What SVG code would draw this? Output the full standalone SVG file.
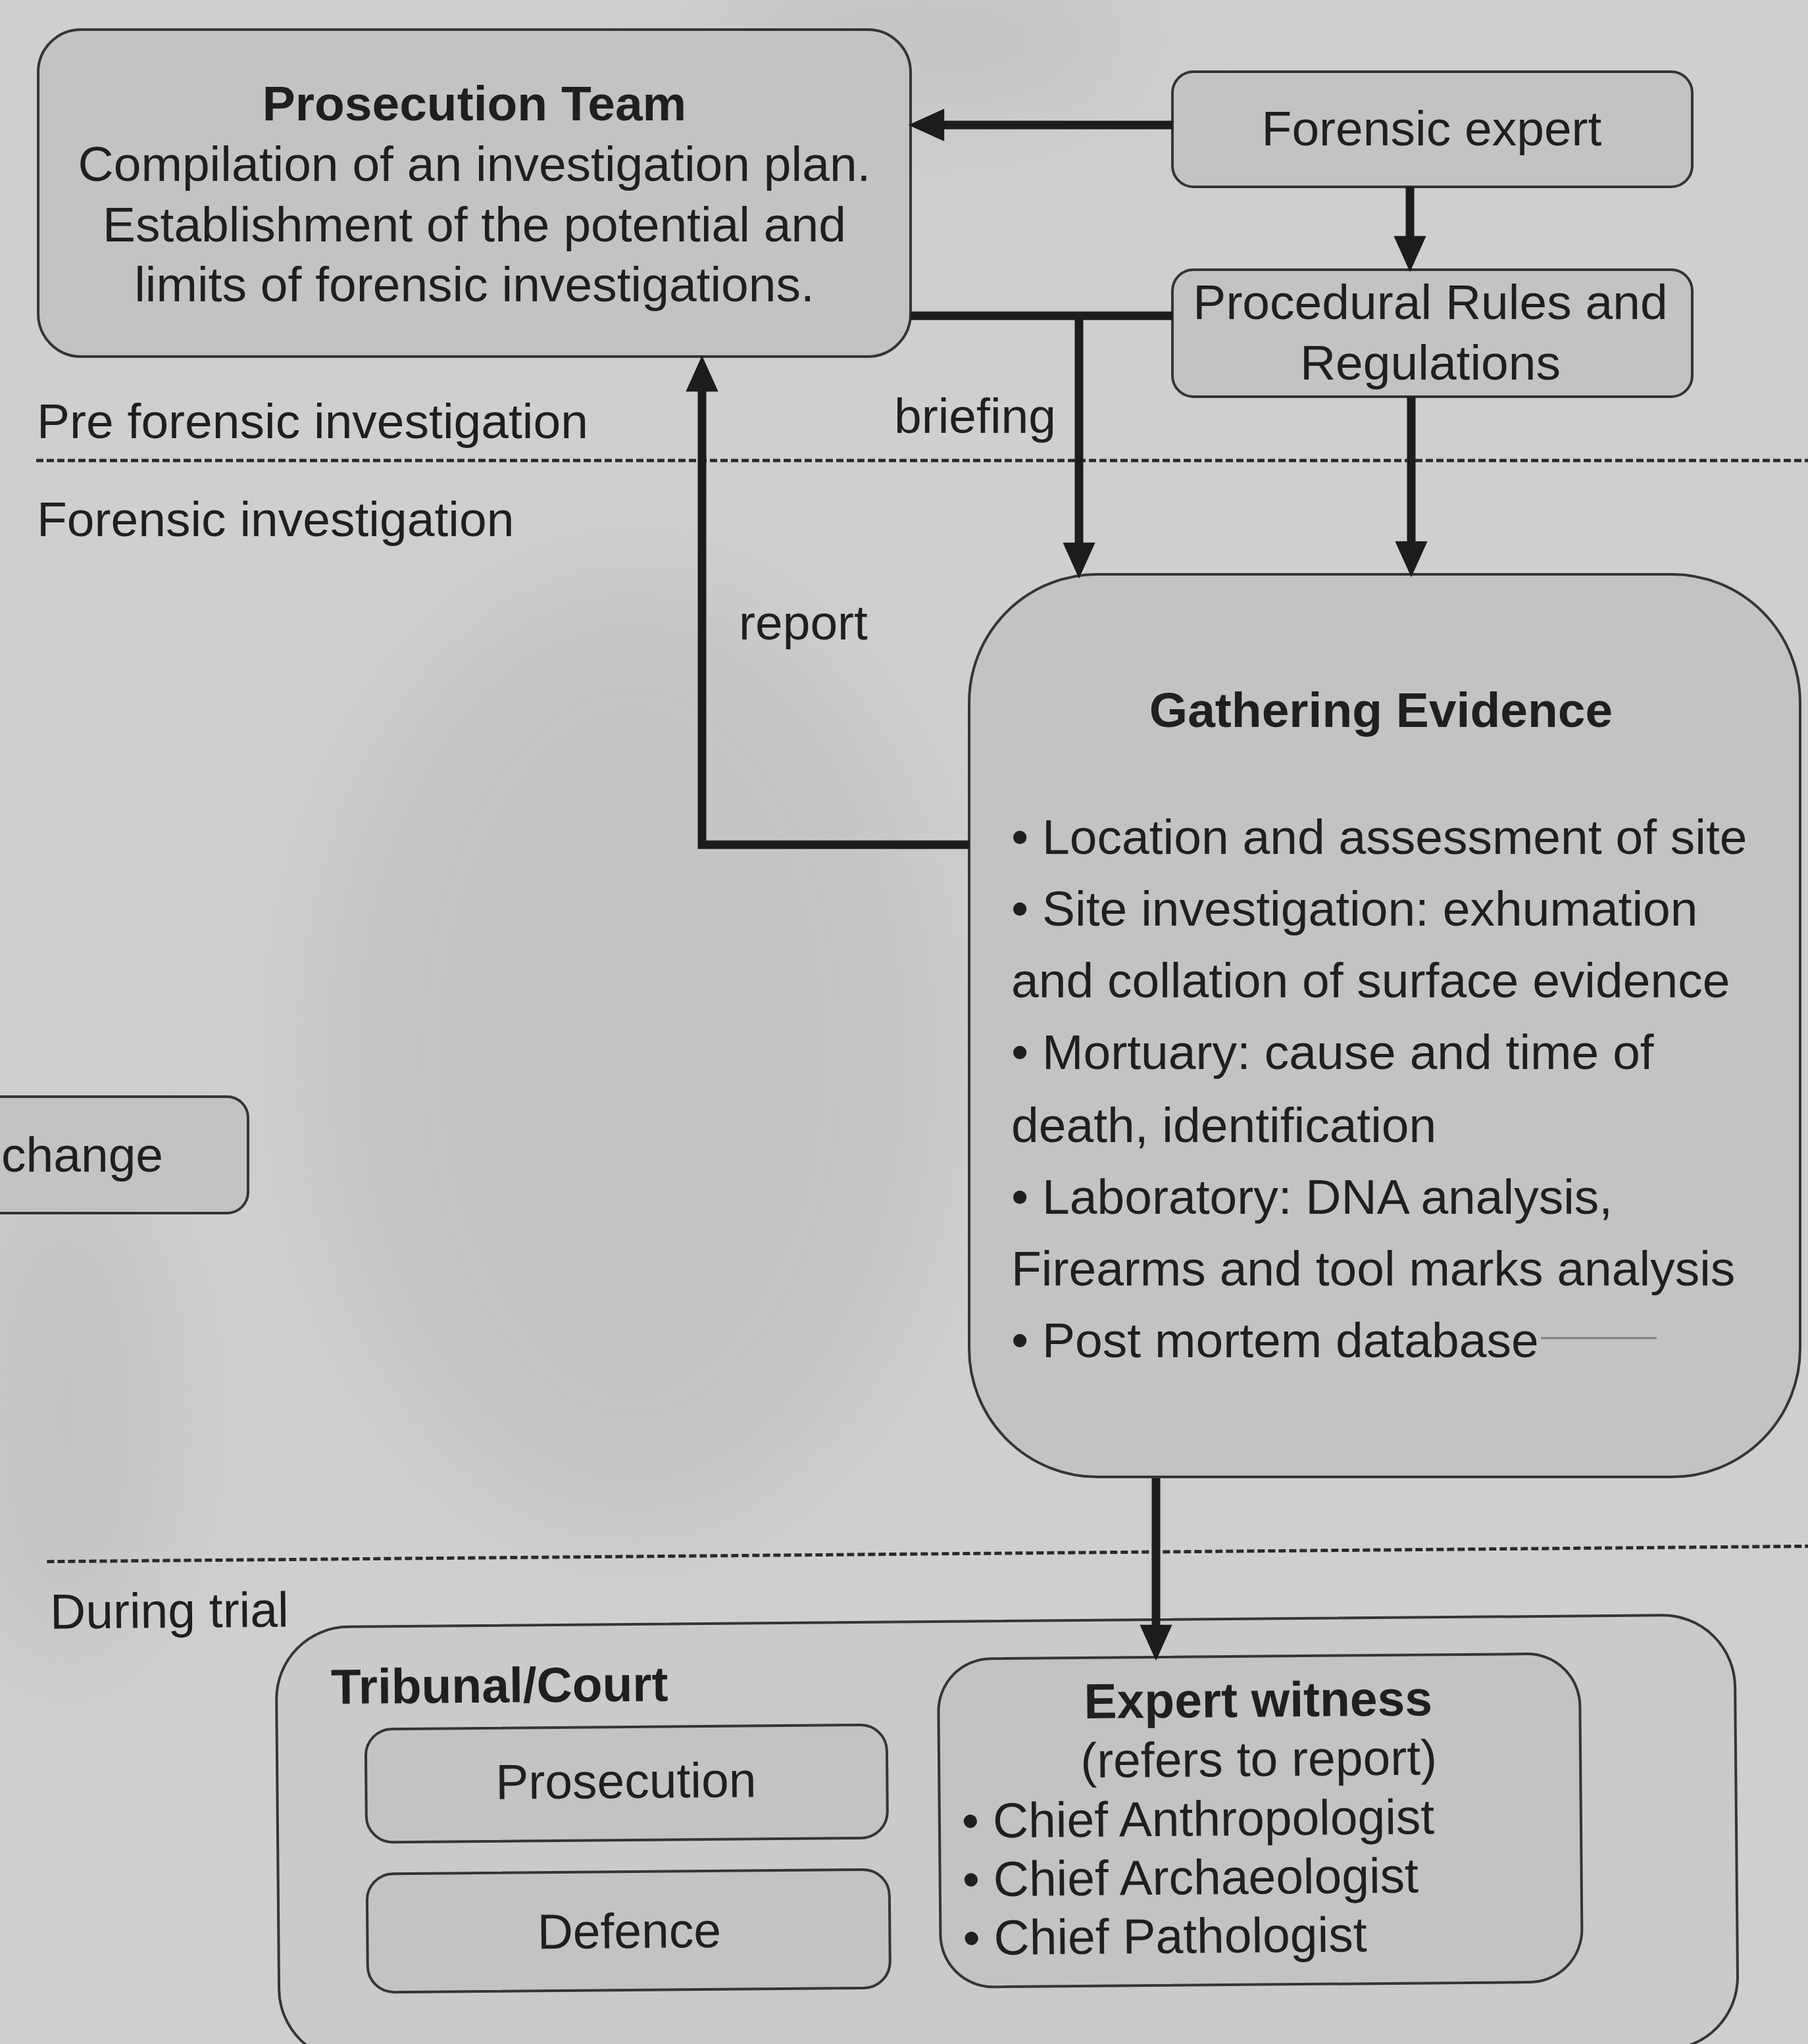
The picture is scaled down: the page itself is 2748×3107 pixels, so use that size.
<svg xmlns="http://www.w3.org/2000/svg" width="2748" height="3107" viewBox="0 0 2748 3107">
  <style>
    .box { fill: #c3c3c3; stroke: #353535; stroke-width: 4; }
    .outer { fill: #cacaca; stroke: #353535; stroke-width: 4; }
    .t { font-family: "Liberation Sans", Arial, sans-serif; font-size: 75px; fill: #1f1f1f; }
    .b { font-weight: bold; }
    .c { text-anchor: middle; }
    .conn { fill: none; stroke: #1c1c1c; stroke-width: 13; }
    .sep { fill: none; stroke: #2a2a2a; stroke-width: 5; stroke-dasharray: 11 5; }
  </style>
  <defs>
    <marker id="arrow" markerUnits="userSpaceOnUse" markerWidth="60" markerHeight="60" viewBox="-4 -26 56 52" refX="0" refY="0" orient="auto">
      <path d="M-3,-23 L48,0 L-3,23 Z" fill="#1c1c1c"/>
    </marker>
    <filter id="blur" x="-50%" y="-50%" width="200%" height="200%">
      <feGaussianBlur stdDeviation="80"/>
    </filter>
  </defs>

  <rect x="0" y="0" width="2748" height="3107" fill="#cfcfcf"/>
  <g id="background-photo" filter="url(#blur)" fill="#bdbdbd" opacity="0.55">
    <ellipse cx="960" cy="1600" rx="480" ry="720"/>
    <ellipse cx="1400" cy="60" rx="320" ry="120"/>
    <ellipse cx="100" cy="2150" rx="160" ry="380"/>
  </g>

  <!-- phase separators and labels -->
  <g id="phases">
    <line class="sep" x1="55" y1="700" x2="2748" y2="700"/>
    <text class="t" x="56" y="666">Pre forensic investigation</text>
    <text class="t" x="56" y="815">Forensic investigation</text>
  </g>

  <g id="prosecution-team">
    <rect class="box" x="58" y="45" width="1326" height="497" rx="65" ry="65"/>
    <text class="t b c" x="721" y="183">Prosecution Team</text>
    <text class="t c" x="721" y="275">Compilation of an investigation plan.</text>
    <text class="t c" x="721" y="367">Establishment of the potential and</text>
    <text class="t c" x="721" y="458">limits of forensic investigations.</text>
  </g>

  <g id="forensic-expert">
    <rect class="box" x="1782" y="109" width="790" height="175" rx="32" ry="32"/>
    <text class="t c" x="2176" y="221">Forensic expert</text>
  </g>

  <g id="procedural-rules">
    <rect class="box" x="1782" y="410" width="790" height="193" rx="32" ry="32"/>
    <text class="t c" x="2174" y="485">Procedural Rules and</text>
    <text class="t c" x="2174" y="577">Regulations</text>
  </g>

  <g id="exchange">
    <rect class="box" x="-60" y="1667" width="437" height="177" rx="32" ry="32"/>
    <text class="t" x="2" y="1781">change</text>
  </g>

  <g id="gathering-evidence">
    <rect class="box" x="1473" y="873" width="1263" height="1372" rx="195" ry="195"/>
    <text class="t b c" x="2099" y="1105">Gathering Evidence</text>
    <text class="t" x="1537" y="1298">• Location and assessment of site</text>
    <text class="t" x="1537" y="1407">• Site investigation: exhumation</text>
    <text class="t" x="1537" y="1516">and collation of surface evidence</text>
    <text class="t" x="1537" y="1625">• Mortuary: cause and time of</text>
    <text class="t" x="1537" y="1736">death, identification</text>
    <text class="t" x="1537" y="1845">• Laboratory: DNA analysis,</text>
    <text class="t" x="1537" y="1954">Firearms and tool marks analysis</text>
    <text class="t" x="1537" y="2063">• Post mortem database</text>
    <line x1="2342" y1="2034" x2="2518" y2="2034" stroke="#555" stroke-width="3" opacity="0.6"/>
  </g>

  <g id="trial" transform="rotate(-0.5 1530 2780)">
    <line class="sep" x1="75" y1="2361" x2="2800" y2="2361"/>
    <text class="t" x="79" y="2463">During trial</text>
    <g id="tribunal-court">
      <rect class="outer" x="422" y="2464" width="2217" height="660" rx="110" ry="110"/>
      <text class="t b" x="505" y="2581">Tribunal/Court</text>
    </g>
    <g id="prosecution">
      <rect class="box" x="557" y="2620" width="792" height="172" rx="40" ry="40"/>
      <text class="t c" x="952" y="2728">Prosecution</text>
    </g>
    <g id="defence">
      <rect class="box" x="557" y="2840" width="794" height="180" rx="40" ry="40"/>
      <text class="t c" x="955" y="2956">Defence</text>
    </g>
    <g id="expert-witness">
      <rect class="box" x="1428" y="2521" width="975" height="499" rx="80" ry="80"/>
      <text class="t b c" x="1914" y="2613">Expert witness</text>
      <text class="t c" x="1914" y="2703">(refers to report)</text>
      <text class="t" x="1462" y="2793">• Chief Anthropologist</text>
      <text class="t" x="1462" y="2882">• Chief Archaeologist</text>
      <text class="t" x="1462" y="2971">• Chief Pathologist</text>
    </g>
  </g>

  <g id="connectors">
    <line class="conn" x1="1782" y1="190" x2="1432" y2="190" marker-end="url(#arrow)"/>
    <line class="conn" x1="2143" y1="284" x2="2143" y2="362" marker-end="url(#arrow)"/>
    <line class="conn" x1="1782" y1="480" x2="1384" y2="480"/>
    <line class="conn" x1="1640" y1="474" x2="1640" y2="828" marker-end="url(#arrow)"/>
    <text class="t" x="1359" y="658">briefing</text>
    <line class="conn" x1="2145" y1="603" x2="2145" y2="826" marker-end="url(#arrow)"/>
    <polyline class="conn" points="1473,1284 1067,1284 1067,592" marker-end="url(#arrow)"/>
    <text class="t" x="1123" y="972">report</text>
    <line class="conn" x1="1757" y1="2247" x2="1757" y2="2473" marker-end="url(#arrow)"/>
  </g>
</svg>
